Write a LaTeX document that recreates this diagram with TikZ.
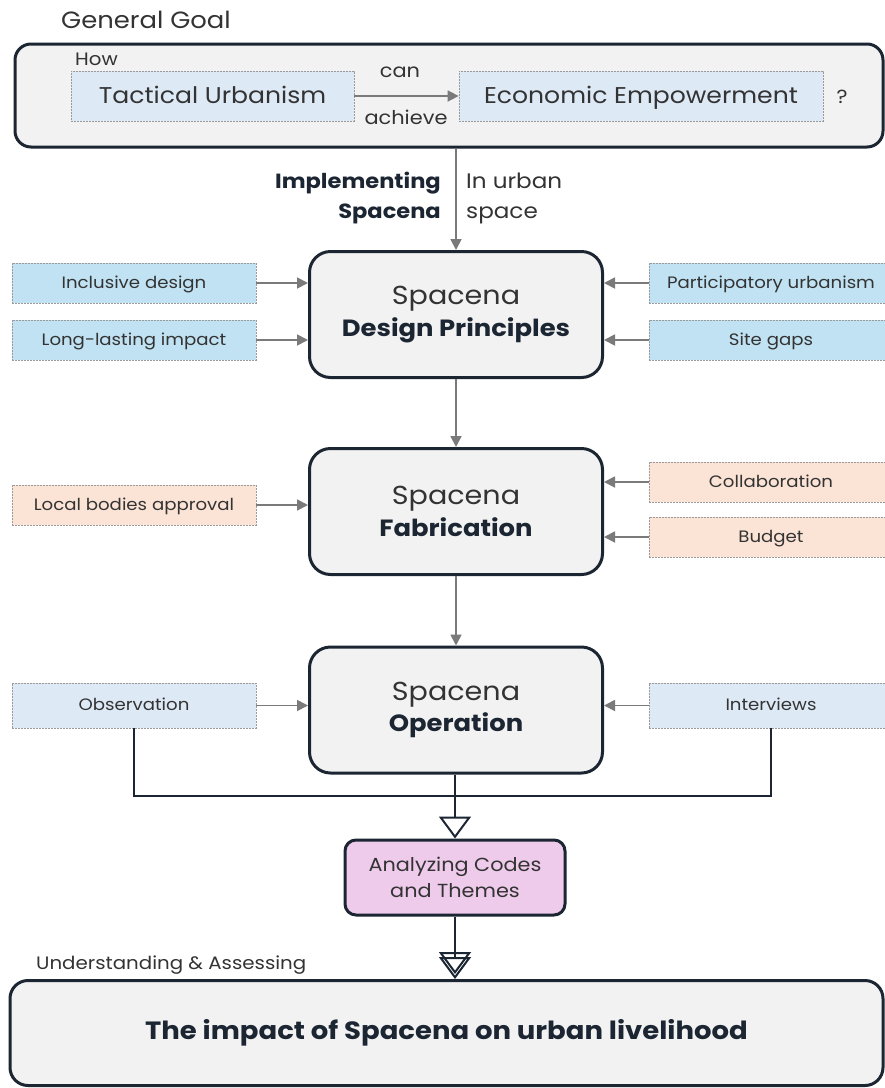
\documentclass[tikz,border=0pt]{standalone}
\usepackage{fontspec}
\setmainfont{Poppins}[FakeStretch=1.1]
\usetikzlibrary{arrows.meta}
\definecolor{navy}{HTML}{1C2633}
\definecolor{boxgray}{HTML}{F2F2F2}
\definecolor{dashgray}{HTML}{9A9A9A}
\definecolor{arrgray}{HTML}{7A7A7A}
\definecolor{paleblue}{HTML}{DEE9F6}
\definecolor{cyanbox}{HTML}{C0E2F2}
\definecolor{peach}{HTML}{FBE3D6}
\definecolor{pinkbox}{HTML}{EFCBEB}
\definecolor{txt}{HTML}{333333}
\tikzset{
  sidebox/.style={draw=dashgray, dash pattern=on 2pt off 1pt, line width=0.8pt, inner sep=0pt,
    minimum width=244pt, minimum height=40pt, text height=14pt, text depth=3.5pt,
    font=\fontsize{16.5}{20}\selectfont, text=txt},
  topbox/.style={draw=dashgray, dash pattern=on 2pt off 1pt, line width=0.8pt, fill=paleblue,
    minimum height=50pt, text height=20pt, text depth=5pt, inner sep=0pt,
    font=\fontsize{22.8}{27}\selectfont, text=txt},
  mainbox/.style={draw=navy, line width=3pt, rounded corners=21pt, fill=boxgray, align=center,
    inner sep=0pt, minimum width=293pt, minimum height=126pt, text=txt},
  garrow/.style={draw=arrgray, line width=1.8pt, -{Triangle[length=11pt,width=11pt]}},
  nline/.style={draw=navy, line width=2.5pt},
  hollow/.style={draw=navy, line width=2.5pt, -{Triangle[open,length=22pt,width=32pt,line width=2pt]}},
  plain/.style={text=txt, inner sep=0pt},
}
\newcommand{\mainlabel}[1]{{\fontsize{26}{34}\selectfont Spacena}\\[5pt]{\fontsize{23.5}{34}\selectfont\bfseries\color{navy}#1}}
\begin{document}
\begin{tikzpicture}[x=1pt,y=-1pt]
\clip (0,0) rectangle (885,1088);
\fill[white] (0,0) rectangle (885,1088);

% general goal
\node[plain, anchor=west, font=\fontsize{23.5}{28}\selectfont] (gg) at (61,20) {General Goal};
\node[draw=navy, line width=3pt, rounded corners=16pt, fill=boxgray, minimum width=868pt, minimum height=103pt] (goal) at (449,95.5) {};
\node[plain, anchor=west, font=\fontsize{18}{21}\selectfont] (how) at (75,59) {How};
\node[topbox, minimum width=283pt] (tu) at (212.5,96) {Tactical Urbanism};
\node[topbox, minimum width=364pt] (ee) at (641,96) {Economic Empowerment};
\draw[garrow] (tu) -- (ee);
\node[plain, font=\fontsize{19}{22}\selectfont] (can) at (400,72) {can};
\node[plain, font=\fontsize{19}{22}\selectfont] (ach) at (406,117) {achieve};
\node[plain, font=\fontsize{19}{22}\selectfont] (q) at (842,97) {?};

% main column
\node[mainbox] (dp) at (456,314.5) {\mainlabel{Design Principles}};
\node[mainbox] (fab) at (456,511.5) {\mainlabel{Fabrication}};
\node[mainbox] (op) at (456,710) {\mainlabel{Operation}};

\draw[garrow] (goal.south -| dp.north) -- (dp.north);
\node[anchor=east, align=right, inner sep=0pt, text=navy, font=\fontsize{20.5}{30}\selectfont\bfseries] (impl) at (441,198) {Implementing\\Spacena};
\node[plain, anchor=west, align=left, font=\fontsize{21}{30}\selectfont] (urb) at (466,198) {In urban\\space};

% side boxes design principles
\node[sidebox, fill=cyanbox] (incl) at (134,283) {Inclusive design};
\node[sidebox, fill=cyanbox] (long) at (134,340) {Long-lasting impact};
\node[sidebox, fill=cyanbox] (part) at (771,283) {Participatory urbanism};
\node[sidebox, fill=cyanbox] (site) at (771,340) {Site gaps};
\draw[garrow] (incl) -- (incl -| dp.west);
\draw[garrow] (long) -- (long -| dp.west);
\draw[garrow] (part) -- (part -| dp.east);
\draw[garrow] (site) -- (site -| dp.east);

\draw[garrow] (dp) -- (fab);

% fabrication
\node[sidebox, fill=peach] (loc) at (134,505) {Local bodies approval};
\node[sidebox, fill=peach] (coll) at (771,482) {Collaboration};
\node[sidebox, fill=peach] (bud) at (771,537) {Budget};
\draw[garrow] (loc) -- (loc -| fab.west);
\draw[garrow] (coll) -- (coll -| fab.east);
\draw[garrow] (bud) -- (bud -| fab.east);

\draw[garrow] (fab) -- (op);

% operation
\node[sidebox, fill=paleblue, minimum height=45pt] (obs) at (134,705.5) {Observation};
\node[sidebox, fill=paleblue, minimum height=45pt] (intv) at (771,705.5) {Interviews};
\draw[garrow] (obs) -- (obs -| op.west);
\draw[garrow] (intv) -- (intv -| op.east);

\coordinate (junc) at (455,796);
\draw[nline] (obs.south) |- (junc) -| (intv.south);

\node[draw=navy, line width=3pt, rounded corners=11pt, fill=pinkbox, minimum width=220pt, minimum height=75pt,
  align=center, text=txt, font=\fontsize{18.9}{26}\selectfont] (ana) at (455,877.5) {Analyzing Codes\\and Themes};
\draw[hollow] (op.south -| junc) -- (ana.north -| junc);

\node[plain, anchor=west, font=\fontsize{18}{21}\selectfont] (ua) at (36,965) {Understanding \& Assessing};
\node[draw=navy, line width=3pt, rounded corners=18pt, fill=boxgray, minimum width=873pt, minimum height=105pt,
  text=navy, font=\fontsize{25}{30}\selectfont\bfseries] (imp) at (446.5,1033) {The impact of Spacena on urban livelihood};
\draw[draw=navy, line width=2.5pt,
  -{Triangle[open,length=22pt,width=32pt,line width=2pt,sep=-17pt]Triangle[open,length=22pt,width=32pt,line width=2pt]}]
  (ana.south -| junc) -- (imp.north -| junc);
\end{tikzpicture}
\end{document}
